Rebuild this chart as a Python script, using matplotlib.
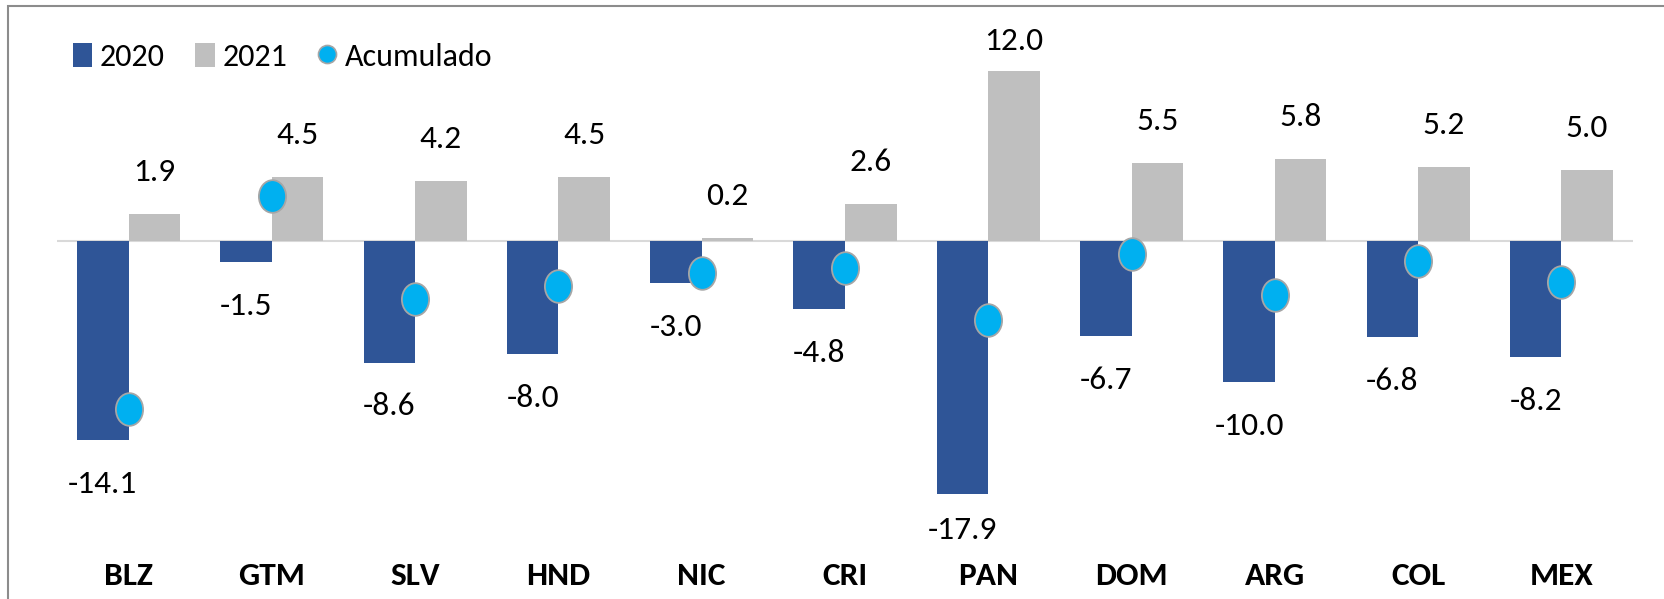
import matplotlib

matplotlib.use("Agg")
import matplotlib.pyplot as plt
import numpy as np
from matplotlib.patches import Rectangle
from matplotlib.path import Path

countries = ["BLZ", "GTM", "SLV", "HND", "NIC", "CRI", "PAN", "DOM", "ARG", "COL", "MEX"]
growth_2020 = [-14.1, -1.5, -8.6, -8.0, -3.0, -4.8, -17.9, -6.7, -10.0, -6.8, -8.2]
growth_2021 = [1.9, 4.5, 4.2, 4.5, 0.2, 2.6, 12.0, 5.5, 5.8, 5.2, 5.0]
acumulado = [-11.9, 3.2, -4.1, -3.2, -2.3, -1.9, -5.6, -0.9, -3.8, -1.4, -2.9]

BLUE = "#2F5597"
GREY = "#BFBFBF"
CYAN = "#00B0F0"

# Carlito is metric-compatible with Calibri (the Excel default)
plt.rcParams["font.family"] = ["Carlito", "DejaVu Sans"]

W, H = 1665, 599
fig = plt.figure(figsize=(W / 100, H / 100), dpi=100)
ax = fig.add_axes([57 / W, 0.1018, 1576 / W, 0.8574])

x = np.arange(len(countries))
bw = 0.36
ax.axhline(0, color="#D9D9D9", lw=1.5, zorder=1)
b20 = ax.bar(x - bw / 2, growth_2020, bw, color=BLUE, label="2020", zorder=2)
b21 = ax.bar(x + bw / 2, growth_2021, bw, color=GREY, label="2021", zorder=2)

# slightly tall ellipse like the Excel marker
circ = Path.unit_circle()
ellipse = Path(circ.vertices * np.array([1.0, 1.2]), circ.codes)
ax.plot(x, acumulado, linestyle="none", marker=ellipse, markersize=23.5,
        markerfacecolor=CYAN, markeredgecolor="#A6A6A6", markeredgewidth=1.3,
        zorder=4)
# legend proxy with a plain circle
acc_handle = plt.Line2D([], [], linestyle="none", marker="o", markersize=13,
                        markerfacecolor=CYAN, markeredgecolor="#A6A6A6",
                        markeredgewidth=1.2)

lo, hi = -21.0, 15.3
ax.set_ylim(lo, hi)
ax.set_xlim(-0.5, len(countries) - 0.5)

# data labels, kept inside the plot like Excel does
for xi, v in zip(x, growth_2020):
    y = np.clip(v - 3.1, -20.4, 14.1)
    ax.text(xi - bw / 2, y, f"{v:.1f}", ha="center", va="center", fontsize=24)
for xi, v in zip(x, growth_2021):
    y = np.clip(v + 2.97, -20.4, 14.1)
    ax.text(xi + bw / 2, y, f"{v:.1f}", ha="center", va="center", fontsize=24)

ax.set_xticks(x, countries, fontsize=24, fontweight="bold")
ax.tick_params(axis="x", length=0, pad=17)
ax.set_yticks([])
for s in ax.spines.values():
    s.set_visible(False)

fig.legend([b20, b21, acc_handle], ["2020", "2021", "Acumulado"],
           loc="center left", bbox_to_anchor=(73 / W, 1 - 57 / H),
           bbox_transform=fig.transFigure, ncol=3, frameon=False,
           fontsize=23, handlelength=0.6, handleheight=0.8,
           handletextpad=0.25, columnspacing=0.95, borderpad=0,
           borderaxespad=0)

# chart-area border (right and bottom edges fall outside the crop)
fig.patches.append(Rectangle((8 / W, -0.1), 1.2, 1.1 - 6 / H, transform=fig.transFigure,
                             fill=False, edgecolor="#8C8C8C", lw=1.5))

fig.savefig("out.png", dpi=100)
plt.close(fig)
